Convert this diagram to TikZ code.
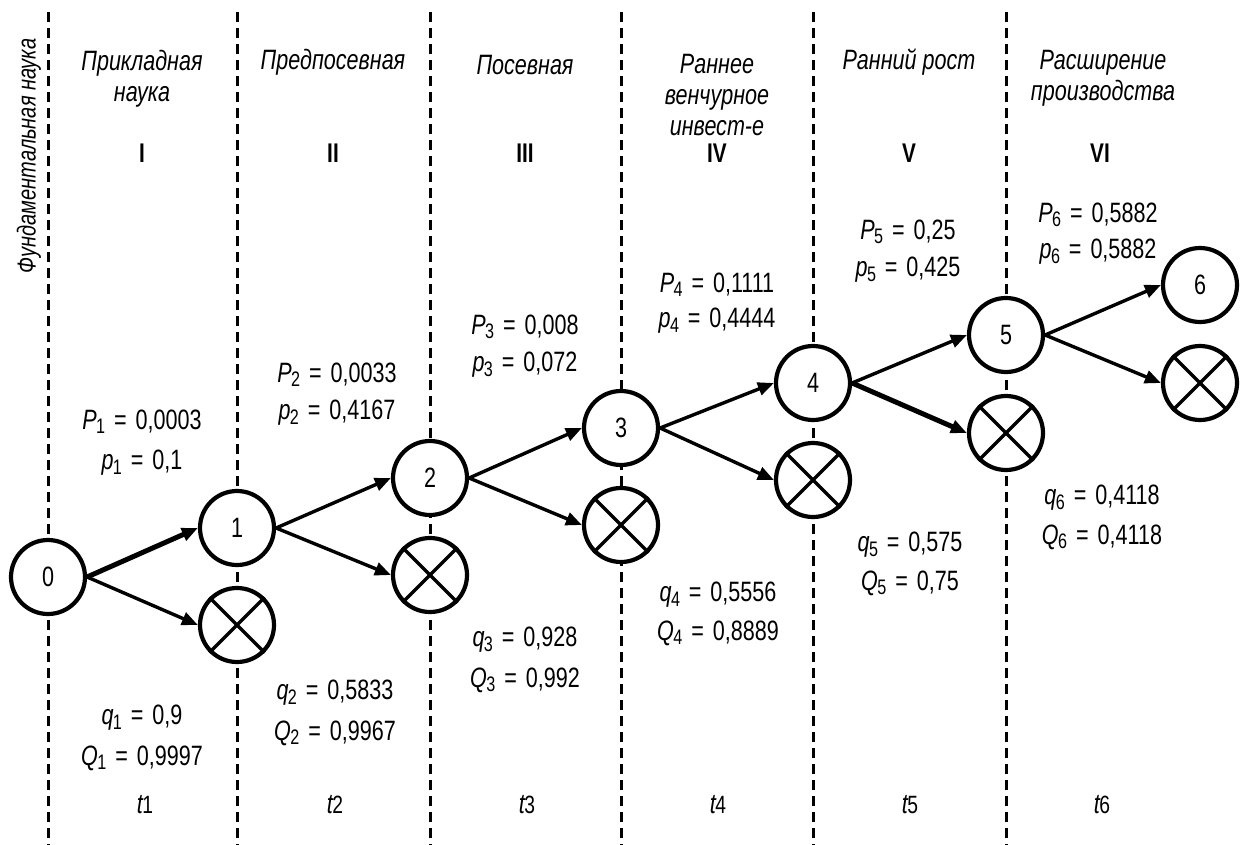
\documentclass[tikz,border=0pt]{standalone}
\usepackage{fontspec}
\setmainfont{Liberation Sans}[FakeStretch=0.77]
\usetikzlibrary{arrows.meta}
% value label: italic letter, lowered index, value
\newcommand\vl[3]{\textit{#1}\kern-0.02em\raisebox{-0.3ex}{\fontsize{21}{21}\selectfont #2}\hspace{0.32em}=\hspace{0.32em}#3}
\newcommand\tm[1]{\textit{t}\kern-0.05em{\fontsize{25}{25}\selectfont #1}}
\begin{document}
\begin{tikzpicture}[x=1pt,y=-1pt,
  every node/.style={font=\fontsize{28}{34}\selectfont, inner sep=0pt},
  sep/.style={line width=3pt, dash pattern=on 10pt off 6pt},
  st/.style={circle, draw, line width=4.2pt, fill=white, minimum size=74pt, inner sep=0pt},
  arr/.style={line width=3.4pt, -{Triangle[length=16pt,width=13pt]}},
  thk/.style={arr, line width=5pt},
  head/.style={font=\fontsize{28}{31}\selectfont\itshape, align=center},
  roman/.style={font=\fontsize{27}{30}\selectfont\bfseries},
  xline/.style={line width=3.4pt}
]
\useasboundingbox (0,0) rectangle (1241,845);

% stage boundaries
\foreach \x in {48,237,430,621,813,1006}
  \draw[sep] (\x,12) -- (\x,845);

% vertical title
\node[rotate=90, font=\fontsize{26}{30}\selectfont\itshape] (fund) at (29,156) {Фундаментальная наука};

% stage names
\node[head] (h1) at (142,79) {Прикладная\\наука};
\node[head] (h2) at (333,62) {Предпосевная};
\node[head] (h3) at (525,65) {Посевная};
\node[head] (h4) at (717,95) {Раннее\\венчурное\\инвест-е};
\node[head] (h5) at (909,62) {Ранний рост};
\node[head] (h6) at (1103,78) {Расширение\\производства};

% stage numbers
\node[roman] (r1) at (142,153) {I};
\node[roman] (r2) at (333,153) {II};
\node[roman] (r3) at (525,153) {III};
\node[roman] (r4) at (717,153) {IV};
\node[roman] (r5) at (909,153) {V};
\node[roman] (r6) at (1100,153) {VI};

% states
\node[st] (n0) at (48,577) {0};
\node[st] (n1) at (237,528) {1};
\node[st] (x1) at (237,625) {};
\node[st] (n2) at (430,478) {2};
\node[st] (x2) at (430,575) {};
\node[st] (n3) at (621,428) {3};
\node[st] (x3) at (621,525) {};
\node[st] (n4) at (813,383) {4};
\node[st] (x4) at (813,480) {};
\node[st] (n5) at (1006,335) {5};
\node[st] (x5) at (1006,433) {};
\node[st] (n6) at (1200,285) {6};
\node[st] (x6) at (1200,383) {};

% failure marks
\foreach \i in {1,...,6}{
  \draw[xline] (x\i.north east) -- (x\i.south west);
  \draw[xline] (x\i.north west) -- (x\i.south east);
}

% transitions
\draw[thk] (n0.east) -- (n1.west);
\draw[arr] (n0.east) -- (x1.west);
\draw[arr] (n1.east) -- (n2.west);
\draw[arr] (n1.east) -- (x2.west);
\draw[arr] (n2.east) -- (n3.west);
\draw[arr] (n2.east) -- (x3.west);
\draw[arr] (n3.east) -- (n4.west);
\draw[arr] (n3.east) -- (x4.west);
\draw[arr] (n4.east) -- (n5.west);
\draw[thk] (n4.east) -- (x5.west);
\draw[arr] (n5.east) -- (n6.west);
\draw[arr] (n5.east) -- (x6.west);

% success probabilities
\node (P1) at (142,422) {\vl{P}{1}{0,0003}};
\node (p1) at (142,463) {\vl{p}{1}{0,1}};
\node (P2) at (337,375) {\vl{P}{2}{0,0033}};
\node (p2) at (337,413) {\vl{p}{2}{0,4167}};
\node (P3) at (525,327) {\vl{P}{3}{0,008}};
\node (p3) at (525,365) {\vl{p}{3}{0,072}};
\node (P4) at (717,285) {\vl{P}{4}{0,1111}};
\node (p4) at (717,321) {\vl{p}{4}{0,4444}};
\node (P5) at (908,232) {\vl{P}{5}{0,25}};
\node (p5) at (908,270) {\vl{p}{5}{0,425}};
\node (P6) at (1098,215) {\vl{P}{6}{0,5882}};
\node (p6) at (1098,252) {\vl{p}{6}{0,5882}};

% failure probabilities
\node (q1) at (142,718) {\vl{q}{1}{0,9}};
\node (Q1) at (142,758) {\vl{Q}{1}{0,9997}};
\node (q2) at (335,693) {\vl{q}{2}{0,5833}};
\node (Q2) at (335,733) {\vl{Q}{2}{0,9967}};
\node (q3) at (525,640) {\vl{q}{3}{0,928}};
\node (Q3) at (525,680) {\vl{Q}{3}{0,992}};
\node (q4) at (718,595) {\vl{q}{4}{0,5556}};
\node (Q4) at (718,633) {\vl{Q}{4}{0,8889}};
\node (q5) at (910,545) {\vl{q}{5}{0,575}};
\node (Q5) at (910,583) {\vl{Q}{5}{0,75}};
\node (q6) at (1102,498) {\vl{q}{6}{0,4118}};
\node (Q6) at (1102,537) {\vl{Q}{6}{0,4118}};

% time marks
\node (t1) at (145,805) {\tm{1}};
\node (t2) at (335,805) {\tm{2}};
\node (t3) at (527,805) {\tm{3}};
\node (t4) at (718,805) {\tm{4}};
\node (t5) at (910,805) {\tm{5}};
\node (t6) at (1102,805) {\tm{6}};
\end{tikzpicture}
\end{document}
